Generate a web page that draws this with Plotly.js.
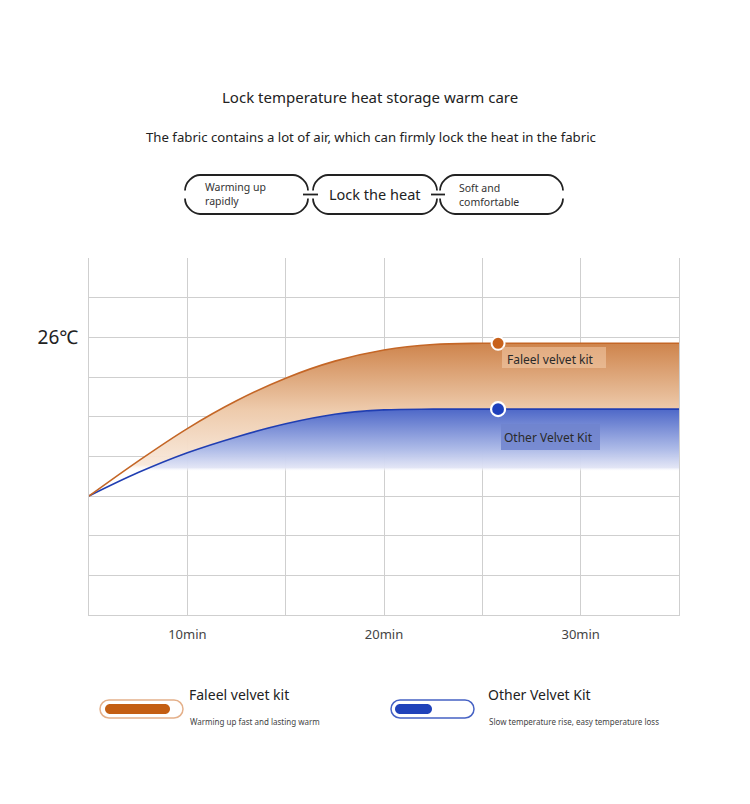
<!DOCTYPE html>
<html>
<head>
<meta charset="utf-8">
<script src="https://cdn.plot.ly/plotly-3.0.1.min.js"></script>
<style>
html,body{margin:0;padding:0;background:#fff;}
#chart{width:750px;height:804px;}
</style>
</head>
<body>
<div id="chart"></div>
<script>
// ---- data ----
const minutes = [5, 7.5, 10, 12.5, 15, 17.5, 20, 22.5, 25, 27.5, 30, 32.5, 35];
const faleelTemp = [22.0, 22.88, 23.70, 24.40, 24.97, 25.40, 25.68, 25.82, 25.85, 25.85, 25.85, 25.85, 25.85];
const otherTemp  = [22.0, 22.59, 23.09, 23.49, 23.82, 24.06, 24.17, 24.19, 24.19, 24.19, 24.19, 24.19, 24.19];
const markerMinute = [25.8];
const faleelMarker = [25.85];
const otherMarker = [24.19];
const xTickVals = [10, 20, 30];
const xTickText = ['10min', '20min', '30min'];
const yTickVals = [26];
const yTickText = ['26℃'];
const seriesNames = ['Faleel velvet kit', 'Other Velvet Kit'];
const seriesNotes = ['Warming up fast and lasting warm', 'Slow temperature rise, easy temperature loss'];

// ---- geometry helpers (pixel -> paper) ----
const W = 750, H = 804, ML = 89, MR = 71, MT = 258, MB = 189;
const PW = W - ML - MR, PH = H - MT - MB;
const fx = x => ((x - ML) / PW);
const fy = y => ((H - MB - y) / PH);
const P = (x, y) => fx(x).toFixed(5) + ',' + fy(y).toFixed(5);
const K = 0.4477;

function roundRectPath(x0, y0, x1, y1, r) {
  return 'M' + P(x0 + r, y0) + ' L' + P(x1 - r, y0) +
    ' C' + P(x1 - r * K, y0) + ' ' + P(x1, y0 + r * K) + ' ' + P(x1, y0 + r) +
    ' L' + P(x1, y1 - r) +
    ' C' + P(x1, y1 - r * K) + ' ' + P(x1 - r * K, y1) + ' ' + P(x1 - r, y1) +
    ' L' + P(x0 + r, y1) +
    ' C' + P(x0 + r * K, y1) + ' ' + P(x0, y1 - r * K) + ' ' + P(x0, y1 - r) +
    ' L' + P(x0, y0 + r) +
    ' C' + P(x0, y0 + r * K) + ' ' + P(x0 + r * K, y0) + ' ' + P(x0 + r, y0) + ' Z';
}
function pillShapes(x0, x1, y0, y1, rx, gap) {
  const ym = (y0 + y1) / 2;
  const ry = ym - gap - y0;
  const top = 'M' + P(x0, ym - gap) +
    ' C' + P(x0, ym - gap - ry * (1 - K)) + ' ' + P(x0 + rx * (1 - K), y0) + ' ' + P(x0 + rx, y0) +
    ' L' + P(x1 - rx, y0) +
    ' C' + P(x1 - rx * (1 - K), y0) + ' ' + P(x1, ym - gap - ry * (1 - K)) + ' ' + P(x1, ym - gap);
  const bot = 'M' + P(x0, ym + gap) +
    ' C' + P(x0, ym + gap + ry * (1 - K)) + ' ' + P(x0 + rx * (1 - K), y1) + ' ' + P(x0 + rx, y1) +
    ' L' + P(x1 - rx, y1) +
    ' C' + P(x1 - rx * (1 - K), y1) + ' ' + P(x1, ym + gap + ry * (1 - K)) + ' ' + P(x1, ym + gap);
  const ln = {color: '#222', width: 1.8};
  return [
    {type: 'path', xref: 'paper', yref: 'paper', path: top, line: ln},
    {type: 'path', xref: 'paper', yref: 'paper', path: bot, line: ln}
  ];
}
function lineShape(x0, y0, x1, y1, color, width) {
  return {type: 'line', xref: 'paper', yref: 'paper', x0: fx(x0), y0: fy(y0), x1: fx(x1), y1: fy(y1),
    line: {color: color, width: width}};
}
function rectShape(x0, y0, x1, y1, fill) {
  return {type: 'rect', xref: 'paper', yref: 'paper', x0: fx(x0), y0: fy(y0), x1: fx(x1), y1: fy(y1),
    fillcolor: fill, line: {width: 0}, layer: 'above'};
}
function txt(text, x, y, size, color, xanchor) {
  return {text: text, xref: 'paper', yref: 'paper', x: fx(x), y: fy(y), showarrow: false,
    xanchor: xanchor || 'center', yanchor: 'middle', align: xanchor || 'center',
    font: {family: 'Noto Sans, Open Sans, sans-serif', size: size, color: color}};
}

const FONT = 'Noto Sans, Open Sans, sans-serif';
const gridColor = '#cfcfcf';

const traces = [
  {
    x: minutes, y: otherTemp, type: 'scatter', mode: 'lines', name: seriesNames[1],
    line: {color: 'rgb(32,62,178)', width: 1.6, shape: 'spline', smoothing: 1},
    fill: 'tozeroy',
    fillgradient: {type: 'vertical', start: 22.62, stop: 24.19,
      colorscale: [[0, 'rgba(255,255,255,0)'], [0.06, 'rgba(225,228,245,0.95)'], [0.35, 'rgb(175,188,232)'], [1, 'rgb(78,104,200)']]},
    hoverinfo: 'skip'
  },
  {
    x: minutes, y: faleelTemp, type: 'scatter', mode: 'lines', name: seriesNames[0],
    line: {color: 'rgb(196,102,38)', width: 1.6, shape: 'spline', smoothing: 1},
    fill: 'tonexty',
    fillgradient: {type: 'vertical', start: 22.62, stop: 25.85,
      colorscale: [[0, 'rgba(255,255,255,0)'], [0.05, 'rgba(248,232,218,0.95)'], [0.48, 'rgb(238,203,172)'], [1, 'rgb(206,132,76)']]},
    hoverinfo: 'skip'
  },
  {
    x: markerMinute, y: faleelMarker, type: 'scatter', mode: 'markers',
    marker: {color: 'rgb(200,98,28)', size: 13, line: {color: '#fff', width: 2}},
    hoverinfo: 'skip'
  },
  {
    x: markerMinute, y: otherMarker, type: 'scatter', mode: 'markers',
    marker: {color: 'rgb(30,64,188)', size: 14, line: {color: '#fff', width: 2.2}},
    hoverinfo: 'skip'
  }
];

const shapes = [].concat(
  pillShapes(185, 308, 175, 214, 15, 4),
  pillShapes(313, 437, 175, 214, 15, 4),
  pillShapes(440, 563, 175, 214, 15, 4),
  [lineShape(303, 194.5, 318, 194.5, '#222', 1.8), lineShape(431, 194.5, 445, 194.5, '#222', 1.8)],
  [rectShape(502, 347, 606, 368, 'rgba(246,210,178,0.5)'),
   rectShape(501, 424, 600, 450, 'rgba(112,132,206,0.85)')],
  [
    {type: 'path', xref: 'paper', yref: 'paper', path: roundRectPath(100, 700, 183, 718, 9),
      line: {color: 'rgb(228,176,138)', width: 1.5}, fillcolor: 'rgba(0,0,0,0)'},
    {type: 'path', xref: 'paper', yref: 'paper', path: roundRectPath(105, 704, 170, 714, 5),
      line: {width: 0}, fillcolor: 'rgb(196,94,18)'},
    {type: 'path', xref: 'paper', yref: 'paper', path: roundRectPath(391, 700, 474, 718, 9),
      line: {color: 'rgb(70,98,196)', width: 1.5}, fillcolor: 'rgba(0,0,0,0)'},
    {type: 'path', xref: 'paper', yref: 'paper', path: roundRectPath(395, 704, 432, 714, 5),
      line: {width: 0}, fillcolor: 'rgb(32,66,186)'}
  ]
);

const annotations = [
  txt('Lock temperature heat storage warm care', 370, 97, 15, '#222'),
  txt('The fabric contains a lot of air, which can firmly lock the heat in the fabric', 371, 137, 13.2, '#222'),
  txt('Warming up<br>rapidly', 203, 194, 10.5, '#333', 'left'),
  txt('Lock the heat', 375, 194, 14.5, '#222'),
  txt('Soft and<br>comfortable', 457, 195, 10.5, '#333', 'left'),
  txt(seriesNames[0], 505, 359, 12, '#2a2a2a', 'left'),
  txt(seriesNames[1], 502, 437, 12, '#2a2a2a', 'left'),
  txt(seriesNames[0], 187, 694, 14, '#222', 'left'),
  txt(seriesNotes[0], 188, 721, 8, '#444', 'left'),
  txt(seriesNames[1], 486, 694, 14, '#222', 'left'),
  txt(seriesNotes[1], 487, 721, 8, '#444', 'left')
];

const layout = {
  width: W, height: H,
  margin: {l: ML, r: MR, t: MT, b: MB, pad: 0},
  paper_bgcolor: '#fff', plot_bgcolor: '#fff',
  showlegend: false,
  font: {family: FONT, color: '#222'},
  xaxis: {
    range: [5, 35], tickmode: 'array', tickvals: xTickVals, ticktext: xTickText,
    showgrid: true, gridcolor: gridColor, gridwidth: 1,
    minor: {tickmode: 'linear', tick0: 5, dtick: 5, showgrid: true, gridcolor: gridColor, gridwidth: 1},
    showline: true, linecolor: gridColor, linewidth: 1, mirror: false,
    zeroline: false, ticks: '', ticklabelstandoff: 7,
    tickfont: {family: FONT, size: 13, color: '#444'}, fixedrange: true
  },
  yaxis: {
    range: [19, 28], tickmode: 'array', tickvals: yTickVals, ticktext: yTickText,
    showgrid: true, gridcolor: gridColor, gridwidth: 1,
    minor: {tickmode: 'linear', tick0: 19, dtick: 1, showgrid: true, gridcolor: gridColor, gridwidth: 1},
    showline: true, linecolor: gridColor, linewidth: 1, mirror: true,
    zeroline: false, ticks: '', ticklabelstandoff: 6,
    tickfont: {family: FONT, size: 19, color: '#222'}, fixedrange: true
  },
  shapes: shapes,
  annotations: annotations
};

Plotly.newPlot('chart', traces, layout, {displayModeBar: false, staticPlot: true});
</script>
</body>
</html>
